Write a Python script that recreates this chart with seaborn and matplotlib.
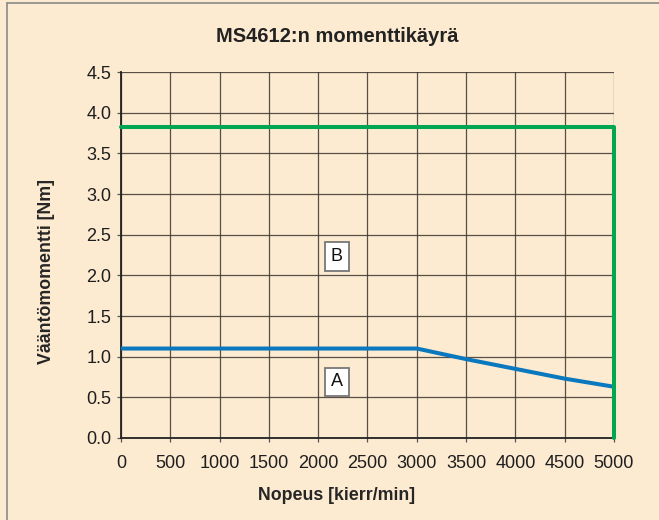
import matplotlib
matplotlib.use("Agg")
import matplotlib.pyplot as plt
import pandas as pd
import seaborn as sns

# data
speed_a = [0, 3000, 3500, 4000, 4500, 5000]
torque_a = [1.1, 1.1, 0.97, 0.85, 0.73, 0.63]
speed_b = [0, 5000, 5000]
torque_b = [3.82, 3.82, 0.0]
x_ticks = [0, 500, 1000, 1500, 2000, 2500, 3000, 3500, 4000, 4500, 5000]
y_ticks = [0.0, 0.5, 1.0, 1.5, 2.0, 2.5, 3.0, 3.5, 4.0, 4.5]
region_labels = ["A", "B"]
region_pos = [(2190, 0.69), (2190, 2.23)]

bg = "#FDEBD1"
sns.set_theme(style="white")
plt.rcParams["font.family"] = ["Liberation Sans", "DejaVu Sans"]

fig = plt.figure(figsize=(6.59, 5.2), dpi=100, facecolor=bg)
ax = fig.add_axes([0.1836, 0.1577, 0.7481, 0.7038])
ax.set_facecolor(bg)

df_a = pd.DataFrame({"speed": speed_a, "torque": torque_a})
df_b = pd.DataFrame({"speed": speed_b, "torque": torque_b})

ax.set_xticks(x_ticks)
ax.set_yticks(y_ticks)
ax.set_xticklabels([str(v) for v in x_ticks])
ax.set_yticklabels([f"{v:.1f}" for v in y_ticks])
ax.set_xlim(0, 5000)
ax.set_ylim(0, 4.5)
ax.grid(True, color="#3a3430", linewidth=0.9, alpha=0.85)
ax.set_axisbelow(True)

sns.lineplot(data=df_a, x="speed", y="torque", ax=ax, color="#0A78BE",
             linewidth=2.9, sort=False, estimator=None, zorder=3)
sns.lineplot(data=df_b, x="speed", y="torque", ax=ax, color="#00A651",
             linewidth=2.9, sort=False, estimator=None, zorder=4, clip_on=False)

for s in ["top", "right"]:
    ax.spines[s].set_visible(False)
for s in ["left", "bottom"]:
    ax.spines[s].set_color("#222222")
    ax.spines[s].set_linewidth(1.3)

ax.tick_params(axis="both", which="major", direction="out", length=3,
               width=0.9, color="#555555", labelsize=13, labelcolor="#1e1e1e",
               bottom=True, left=True)
ax.tick_params(axis="x", pad=9)
ax.tick_params(axis="y", pad=4)

for lab, (x, y) in zip(region_labels, region_pos):
    ax.text(x, y, lab, ha="center", va="center", fontsize=13, color="#111111",
            zorder=5,
            bbox=dict(boxstyle="square,pad=0.32", facecolor="white",
                      edgecolor="#777777", linewidth=1.3))

ax.set_xlabel("")
ax.set_ylabel("")
fig.text(337 / 659, 1 - 495 / 520, "Nopeus [kierr/min]", ha="center",
         va="center", fontsize=12.8, fontweight="bold", color="#262626")
fig.text(47 / 659, 1 - 271 / 520, "Vääntömomentti [Nm]", ha="center",
         va="center", rotation=90, fontsize=12.8, fontweight="bold",
         color="#262626")
fig.text(337 / 659, 1 - 37 / 520, "MS4612:n momenttikäyrä", ha="center",
         va="center", fontsize=14.5, fontweight="bold", color="#222222")

# thin frame at the top and left of the picture
fig.add_artist(plt.Line2D([7 / 659, 1], [1 - 3 / 520, 1 - 3 / 520],
                          transform=fig.transFigure, color="#8a8a8a", linewidth=1.2))
fig.add_artist(plt.Line2D([7 / 659, 7 / 659], [0, 1 - 3 / 520],
                          transform=fig.transFigure, color="#8a8a8a", linewidth=1.2))

fig.savefig("out.png", dpi=100, facecolor=bg)
